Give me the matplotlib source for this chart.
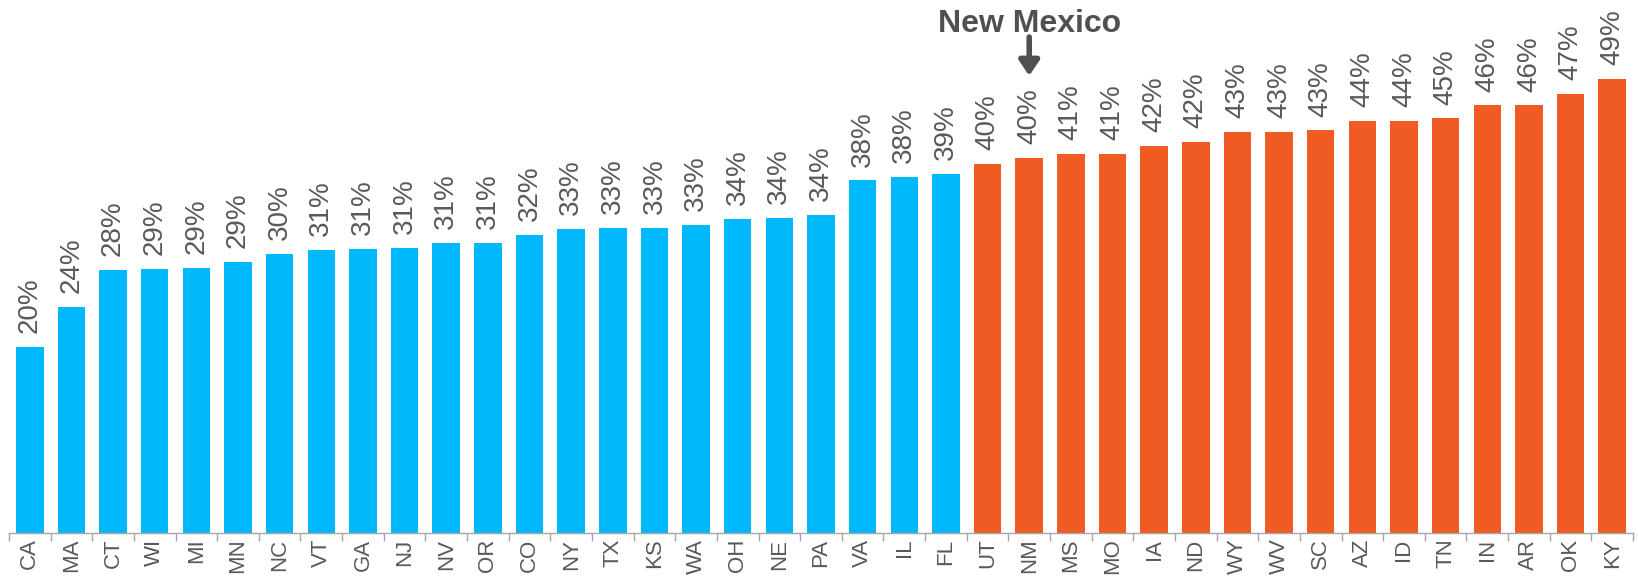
import numpy as np
import matplotlib
matplotlib.use("Agg")
import matplotlib.pyplot as plt

plt.rcParams['font.family'] = ['Liberation Sans', 'DejaVu Sans']

states = ["CA", "MA", "CT", "WI", "MI", "MN", "NC", "VT", "GA", "NJ", "NV", "OR", "CO",
          "NY", "TX", "KS", "WA", "OH", "NE", "PA", "VA", "IL", "FL",
          "UT", "NM", "MS", "MO", "IA", "ND", "WY", "WV", "SC", "AZ", "ID", "TN",
          "IN", "AR", "OK", "KY"]
values = [20.1, 24.4, 28.4, 28.5, 28.6, 29.3, 30.2, 30.6, 30.7, 30.8, 31.35, 31.35, 32.2,
          32.9, 33.0, 33.0, 33.3, 33.9, 34.0, 34.4, 38.1, 38.5, 38.8,
          39.9, 40.5, 41.0, 41.0, 41.8, 42.3, 43.3, 43.3, 43.5, 44.5, 44.5, 44.8,
          46.2, 46.2, 47.4, 49.1]
labels = ["20%", "24%", "28%", "29%", "29%", "29%", "30%", "31%", "31%", "31%", "31%", "31%", "32%",
          "33%", "33%", "33%", "33%", "34%", "34%", "34%", "38%", "38%", "39%",
          "40%", "40%", "41%", "41%", "42%", "42%", "43%", "43%", "43%", "44%", "44%", "45%",
          "46%", "46%", "47%", "49%"]
n_low = 23  # first 23 states in blue, the rest orange
highlight = "NM"

blue = "#00B9FC"
orange = "#F05A23"
grey = "#595959"

fig = plt.figure(figsize=(16.38, 5.79), dpi=100)
ax = fig.add_axes([9 / 1638, 46 / 579, 1624 / 1638, 533 / 579])

x = np.arange(len(states))
colors = [blue if i < n_low else orange for i in range(len(states))]
ax.bar(x, values, width=0.66, color=colors, zorder=2)

for xi, v, lab in zip(x, values, labels):
    ax.annotate(lab, (xi, v), xytext=(0, 10), textcoords="offset points",
                rotation=90, ha="center", va="bottom", fontsize=20, color=grey)

ax.set_xlim(-0.5, len(states) - 0.5)
ax.set_ylim(0, 57.6)

ax.set_xticks(x)
ax.set_xticklabels(states, rotation=90, fontsize=16, color=grey)
ax.set_xticks(np.arange(len(states) + 1) - 0.5, minor=True)
ax.tick_params(axis="x", which="major", length=0, pad=4)
ax.tick_params(axis="x", which="minor", length=6, width=1, color="#a6a6a6", direction="out")
ax.set_yticks([])

for side in ["top", "right", "left"]:
    ax.spines[side].set_visible(False)
ax.spines["bottom"].set_color("#a6a6a6")
ax.spines["bottom"].set_linewidth(1)

hi = states.index(highlight)
ax.annotate("", xy=(hi, 49.4), xytext=(hi, 53.6),
            arrowprops=dict(arrowstyle="-|>,head_width=0.6,head_length=0.9",
                            color="#505050", lw=4, shrinkA=0, shrinkB=0))
ax.text(hi, 54.15, "New Mexico", ha="center", va="baseline", fontsize=23,
        fontweight="bold", color="#505050")

fig.savefig("out.png", dpi=100)
